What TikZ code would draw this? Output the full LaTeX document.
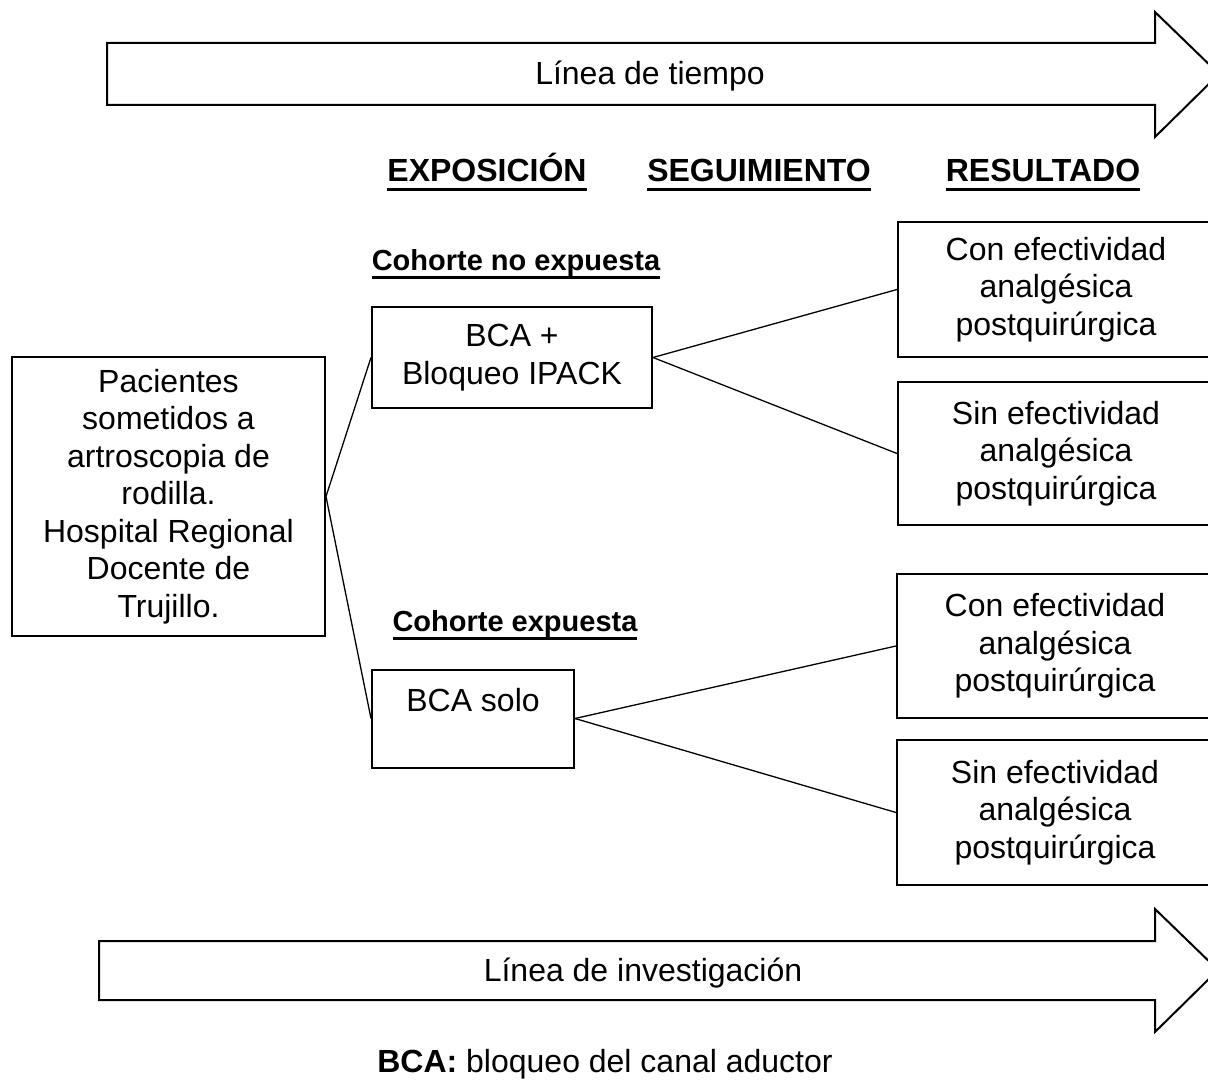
\documentclass[tikz,border=0pt]{standalone}
\usepackage{fontspec}
\setmainfont{Liberation Sans}
\newsavebox{\ulsave}
\newcommand{\ulbox}[1]{\sbox{\ulsave}{#1}\rlap{\vrule width\wd\ulsave height -6pt depth 9pt}\usebox{\ulsave}}

\begin{document}
\begin{tikzpicture}[x=1pt, y=-1pt,
	every node/.style={font=\fontsize{32}{37.5}\selectfont},
	box/.style={draw, line width=2pt, align=center, inner sep=0pt},
	result/.style={box, minimum width=316pt},
	head/.style={anchor=base, font=\fontsize{32}{37.5}\selectfont\bfseries},
	cohort/.style={anchor=base, font=\fontsize{29}{34}\selectfont\bfseries},
	link/.style={line width=1.3pt},
	bigarrow/.style={line width=2pt}]
	\useasboundingbox (0,0) rectangle (1208,1086);
	% time arrows
	\draw[bigarrow] (107,43) -- (1155,43) -- (1155,12) -- (1219,74) -- (1155,137) -- (1155,105) -- (107,105) -- cycle;
	\node[anchor=base] (tiempo) at (650,85) {Línea de tiempo};
	\draw[bigarrow] (99,941) -- (1155,941) -- (1155,909) -- (1218,970) -- (1155,1032) -- (1155,1000) -- (99,1000) -- cycle;
	\node[anchor=base] (investigacion) at (643,981) {Línea de investigación};
	% column titles
	\node[head] (exposicion) at (487,182) {\ulbox{EXPOSICIÓN}};
	\node[head] (seguimiento) at (759,182) {\ulbox{SEGUIMIENTO}};
	\node[head] (resultado) at (1043,182) {\ulbox{RESULTADO}};
	\node[cohort] (noexpuesta) at (516,270) {\ulbox{Cohorte no expuesta}};
	\node[cohort] (expuesta) at (515,631) {\ulbox{Cohorte expuesta}};
	% boxes
	\node[box, minimum width=313pt, minimum height=279pt] (pacientes) at (168.5,496.5)
		{Pacientes\\sometidos a\\artroscopia de\\rodilla.\\Hospital Regional\\Docente de\\Trujillo.};
	\node[box, minimum width=280pt, minimum height=101pt] (ipack) at (512,357.5) {BCA +\\Bloqueo IPACK};
	\node[box, minimum width=202pt, minimum height=98pt] (solo) at (473,718.5) {BCA solo\\\mbox{}};
	\node[result, minimum height=135pt] (conA) at (1056,289.5) {Con efectividad\\analgésica\\postquirúrgica};
	\node[result, minimum height=143pt] (sinA) at (1056,453.5) {Sin efectividad\\analgésica\\postquirúrgica};
	\node[result, minimum height=144pt] (conB) at (1055,646) {Con efectividad\\analgésica\\postquirúrgica};
	\node[result, minimum height=145pt] (sinB) at (1055,812.5) {Sin efectividad\\analgésica\\postquirúrgica};
	% connectors
	\draw[link] (pacientes.east) -- (ipack.west);
	\draw[link] (pacientes.east) -- (solo.west);
	\draw[link] (ipack.east) -- (conA.west);
	\draw[link] (ipack.east) -- (sinA.west);
	\draw[link] (solo.east) -- (conB.west);
	\draw[link] (solo.east) -- (sinB.west);
	\node[anchor=base] (nota) at (605,1072) {\textbf{BCA:} bloqueo del canal aductor};
\end{tikzpicture}
\end{document}
